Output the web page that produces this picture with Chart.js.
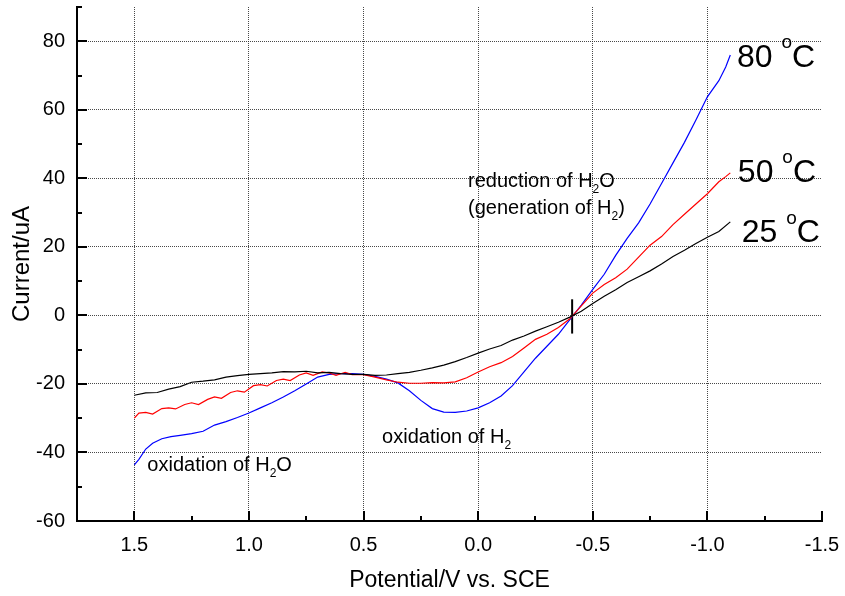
<!DOCTYPE html>
<html>
<head>
<meta charset="utf-8">
<title>Current vs potential</title>
<script src="https://cdn.jsdelivr.net/npm/chart.js@4.4.1/dist/chart.umd.min.js"></script>
<style>
  html, body { margin: 0; padding: 0; background: #fff; }
  #wrap { width: 845px; height: 596px; }
</style>
</head>
<body>
<div id="wrap"><canvas id="chart-cv"></canvas></div>
<script>
// 25 C (black)
var potential25 = [1.50, 1.45, 1.40, 1.35, 1.30, 1.25, 1.20, 1.15, 1.10, 1.05, 1.00, 0.95, 0.90, 0.85, 0.80, 0.75, 0.70, 0.65, 0.60, 0.55, 0.50, 0.45, 0.40, 0.35, 0.30, 0.25, 0.20, 0.15, 0.10, 0.05, 0.00, -0.05, -0.10, -0.15, -0.20, -0.25, -0.30, -0.35, -0.40, -0.45, -0.50, -0.55, -0.60, -0.65, -0.70, -0.75, -0.80, -0.85, -0.90, -0.95, -1.00, -1.05, -1.10];
var current25 = [-23.3, -22.6, -22.5, -21.5, -20.8, -19.5, -19.2, -18.8, -18.0, -17.6, -17.2, -17.0, -16.8, -16.4, -16.5, -16.3, -16.8, -16.6, -17.0, -17.2, -17.2, -17.5, -17.4, -17.0, -16.6, -16.0, -15.3, -14.5, -13.5, -12.3, -11.0, -9.8, -8.8, -7.2, -6.0, -4.6, -3.3, -2.0, -0.5, 1.2, 3.5, 5.6, 7.5, 9.6, 11.3, 13.0, 15.0, 17.2, 19.0, 21.0, 22.8, 24.5, 27.3];

// 50 C (red)
var potential50 = [1.50, 1.48, 1.45, 1.42, 1.38, 1.35, 1.32, 1.28, 1.25, 1.22, 1.18, 1.15, 1.12, 1.08, 1.05, 1.02, 0.98, 0.95, 0.92, 0.88, 0.85, 0.82, 0.78, 0.75, 0.72, 0.68, 0.65, 0.62, 0.58, 0.55, 0.50, 0.45, 0.40, 0.35, 0.30, 0.25, 0.20, 0.15, 0.10, 0.05, 0.00, -0.05, -0.10, -0.15, -0.20, -0.25, -0.30, -0.35, -0.40, -0.45, -0.50, -0.55, -0.60, -0.65, -0.70, -0.75, -0.80, -0.85, -0.90, -0.95, -1.00, -1.05, -1.08, -1.10];
var current50 = [-30.0, -28.5, -28.3, -28.8, -27.2, -27.0, -27.3, -26.0, -25.5, -26.0, -24.5, -23.8, -24.2, -22.5, -22.0, -22.4, -20.5, -20.2, -20.6, -19.0, -18.6, -19.0, -17.4, -16.8, -17.5, -16.5, -16.8, -17.5, -16.6, -17.3, -17.3, -18.0, -18.8, -19.5, -19.8, -19.8, -19.6, -19.7, -19.4, -18.2, -16.5, -15.0, -13.8, -12.0, -9.5, -7.0, -5.5, -3.5, -1.0, 2.8, 6.5, 9.0, 11.0, 13.5, 17.0, 20.5, 23.0, 26.5, 29.5, 32.5, 35.5, 39.0, 40.5, 41.6];

// 80 C (blue)
var potential80 = [1.50, 1.48, 1.45, 1.42, 1.38, 1.34, 1.30, 1.25, 1.20, 1.15, 1.10, 1.05, 1.00, 0.95, 0.90, 0.85, 0.80, 0.75, 0.70, 0.65, 0.60, 0.55, 0.50, 0.45, 0.40, 0.35, 0.30, 0.25, 0.20, 0.15, 0.10, 0.05, 0.00, -0.05, -0.10, -0.15, -0.20, -0.25, -0.30, -0.35, -0.40, -0.45, -0.50, -0.55, -0.60, -0.65, -0.70, -0.75, -0.80, -0.85, -0.90, -0.95, -1.00, -1.05, -1.08, -1.10];
var current80 = [-43.6, -42.0, -39.0, -37.3, -36.0, -35.4, -35.0, -34.5, -33.8, -32.0, -31.0, -29.8, -28.5, -27.0, -25.5, -23.8, -22.0, -20.0, -18.0, -17.2, -17.0, -17.0, -17.2, -17.8, -18.6, -19.7, -22.0, -24.8, -27.2, -28.2, -28.3, -27.9, -27.0, -25.5, -23.5, -20.5, -16.5, -12.5, -9.0, -5.5, -1.2, 3.0, 7.6, 12.0, 17.5, 22.5, 27.0, 32.5, 38.5, 44.5, 50.5, 57.0, 63.8, 68.5, 72.5, 76.0];

// short vertical marker at the common crossing point
var markerPotential = [-0.41, -0.41];
var markerCurrent = [-5.3, 4.7];

var xTickValues = [1.5, 1.0, 0.5, 0.0, -0.5, -1.0, -1.5];
var yTickValues = [-60, -40, -20, 0, 20, 40, 60, 80];

function toPoints(xs, ys) {
    return xs.map(function (x, i) { return {x: x, y: ys[i]}; });
}

var FONT = "'Liberation Sans', Arial, Helvetica, sans-serif";

// text with sub/superscripts, drawn at a data anchor (left, baseline)
function drawRich(ctx, x, y, parts, size) {
    var cx = x;
    parts.forEach(function (p) {
        var s = size, dy = 0;
        if (p.sub) { s = Math.round(size * 0.62); dy = size * 0.32; }
        if (p.sup) { s = Math.round(size * 0.6); dy = -size * 0.58; }
        ctx.font = s + "px " + FONT;
        ctx.fillText(p.t, cx, y + dy);
        cx += ctx.measureText(p.t).width;
    });
}

var extras = {
    id: 'extras',
    afterDraw: function (chart) {
        var ctx = chart.ctx, xs = chart.scales.x, ys = chart.scales.y;
        var x0 = xs.left, yb = ys.bottom;
        ctx.save();
        ctx.strokeStyle = '#000';
        ctx.lineWidth = 2;
        ctx.beginPath();
        // inward ticks on the x axis
        for (var v = -1.5; v <= 1.5 + 1e-9; v += 0.25) {
            var px = Math.round(xs.getPixelForValue(v));
            var major = Math.abs(v * 2 - Math.round(v * 2)) < 1e-6;
            ctx.moveTo(px, yb);
            ctx.lineTo(px, yb - (major ? 10 : 5));
        }
        // inward ticks on the y axis
        for (var w = -60; w <= 90; w += 10) {
            var py = Math.round(ys.getPixelForValue(w));
            var majorY = (w % 20) === 0;
            ctx.moveTo(x0, py);
            ctx.lineTo(x0 + (majorY ? 10 : 5), py);
        }
        ctx.stroke();

        ctx.fillStyle = '#000';
        ctx.textBaseline = 'alphabetic';
        ctx.textAlign = 'left';
        function at(dx, dy) { return [xs.getPixelForValue(dx), ys.getPixelForValue(dy)]; }
        var p;
        p = at(0.044, 37.5);
        drawRich(ctx, p[0], p[1], [{t: 'reduction of H'}, {t: '2', sub: true}, {t: 'O'}], 20);
        p = at(0.044, 29.6);
        drawRich(ctx, p[0], p[1], [{t: '(generation of H'}, {t: '2', sub: true}, {t: ')'}], 20);
        p = at(0.419, -37.2);
        drawRich(ctx, p[0], p[1], [{t: 'oxidation of H'}, {t: '2', sub: true}], 20);
        p = at(1.443, -45.4);
        drawRich(ctx, p[0], p[1], [{t: 'oxidation of H'}, {t: '2', sub: true}, {t: 'O'}], 20);

        p = at(-1.129, 72.6);
        drawRich(ctx, p[0], p[1], [{t: '80 '}, {t: 'o', sup: true}, {t: 'C'}], 32);
        p = at(-1.133, 39.0);
        drawRich(ctx, p[0], p[1], [{t: '50 '}, {t: 'o', sup: true}, {t: 'C'}], 32);
        p = at(-1.150, 21.4);
        drawRich(ctx, p[0], p[1], [{t: '25 '}, {t: 'o', sup: true}, {t: 'C'}], 32);
        ctx.restore();
    }
};

function lineSet(label, xs, ys, color, width) {
    return {
        label: label,
        data: toPoints(xs, ys),
        showLine: true,
        borderColor: color,
        backgroundColor: color,
        borderWidth: width,
        pointRadius: 0,
        tension: 0,
        fill: false
    };
}

var gridColor = function (ctx) {
    if (ctx.tick && ctx.tick.value === -1.5 && ctx.scale.axis === 'x') return 'rgba(0,0,0,0)';
    return 'rgba(40,40,40,0.85)';
};

new Chart(document.getElementById('chart-cv'), {
    type: 'scatter',
    data: {
        datasets: [
            lineSet('25 C', potential25, current25, '#000000', 1.2),
            lineSet('50 C', potential50, current50, '#ff0000', 1.2),
            lineSet('80 C', potential80, current80, '#0000ff', 1.2),
            lineSet('marker', markerPotential, markerCurrent, '#000000', 2)
        ]
    },
    options: {
        responsive: true,
        maintainAspectRatio: false,
        animation: false,
        layout: { padding: { top: 7, right: 23, left: 0, bottom: 0 } },
        plugins: {
            legend: { display: false },
            tooltip: { enabled: false }
        },
        scales: {
            x: {
                type: 'linear',
                reverse: true,
                min: -1.5,
                max: 1.75,
                afterFit: function (s) {
                    s.height = 75;
                    s.paddingLeft = 0;
                    s.paddingRight = 0;
                },
                afterBuildTicks: function (s) {
                    s.ticks = xTickValues.map(function (v) { return {value: v}; });
                },
                ticks: {
                    color: '#000',
                    font: { family: FONT, size: 20 },
                    padding: 12,
                    maxRotation: 0,
                    callback: function (v) { return v.toFixed(1); }
                },
                grid: { color: gridColor, lineWidth: 1, drawTicks: false },
                border: { display: true, color: '#000', width: 2, dash: [1, 1] },
                title: {
                    display: true,
                    text: 'Potential/V vs. SCE',
                    color: '#000',
                    font: { family: FONT, size: 23 },
                    padding: { top: 0, bottom: 2 }
                }
            },
            y: {
                type: 'linear',
                min: -60,
                max: 90,
                afterFit: function (s) {
                    s.width = 77;
                    s.paddingTop = 0;
                    s.paddingBottom = 0;
                },
                afterBuildTicks: function (s) {
                    s.ticks = yTickValues.map(function (v) { return {value: v}; });
                },
                ticks: {
                    color: '#000',
                    font: { family: FONT, size: 20 },
                    padding: 12
                },
                grid: { color: gridColor, lineWidth: 1, drawTicks: false },
                border: { display: true, color: '#000', width: 2, dash: [1, 1] },
                title: {
                    display: true,
                    text: 'Current/uA',
                    color: '#000',
                    font: { family: FONT, size: 24 },
                    padding: { top: 8, bottom: 0 }
                }
            }
        }
    },
    plugins: [extras]
});
</script>
</body>
</html>
